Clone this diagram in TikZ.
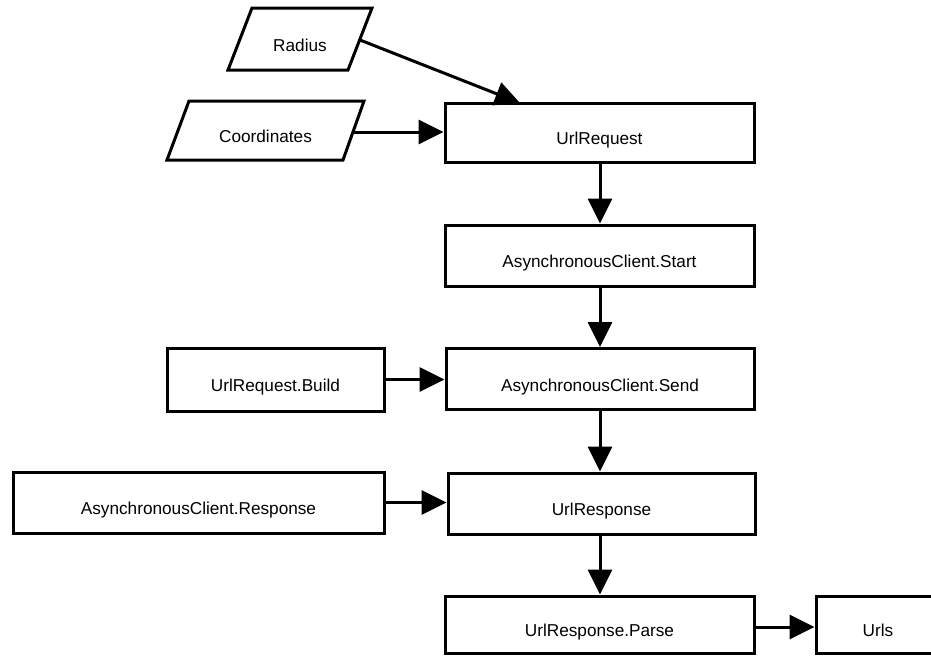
\documentclass[tikz,border=0pt]{standalone}
\usepackage{fontspec}
\setmainfont{Liberation Sans}
\usetikzlibrary{arrows.meta}
\begin{document}
\begin{tikzpicture}[x=1pt,y=-1pt,
  txt/.style={font=\fontsize{17.2}{20}\selectfont, text height=24.3pt, text depth=0pt, inner sep=0pt},
  stepbox/.style={txt, draw, line width=3pt, rectangle, fill=white},
  outline/.style={draw, line width=3pt, line join=miter},
  flow/.style={line width=3pt, -{Triangle[length=25pt,width=24pt]}}]
  \path[use as bounding box, clip] (0,0) rectangle (931,657);
  \fill[white] (0,0) rectangle (931,657);

  % input parallelograms
  \draw[outline] (252,8) -- (372,8) -- (348,70) -- (228,70) -- cycle;
  \node[txt] (radius) at (300,39) {Radius};
  \coordinate (radius-out) at (360,40);
  \draw[outline] (189,101) -- (364,101) -- (343,160) -- (167,160) -- cycle;
  \node[txt] (coords) at (265.5,130.5) {Coordinates};
  \coordinate (coords-out) at (353,132);

  % process boxes
  \node[stepbox, minimum width=309pt, minimum height=59pt] (req)   at (599.5,132.5) {UrlRequest};
  \node[stepbox, minimum width=309pt, minimum height=61pt] (start) at (599.5,255.5) {AsynchronousClient.Start};
  \node[stepbox, minimum width=308pt, minimum height=61pt] (send)  at (600,379)     {AsynchronousClient.Send};
  \node[stepbox, minimum width=217pt, minimum height=63pt] (build) at (275.5,379.5) {UrlRequest.Build};
  \node[stepbox, minimum width=371pt, minimum height=61pt] (resp)  at (198.5,502.5) {AsynchronousClient.Response};
  \node[stepbox, minimum width=307pt, minimum height=61pt] (uresp) at (601.5,503.5) {UrlResponse};
  \node[stepbox, minimum width=309pt, minimum height=57pt] (parse) at (599.5,624.5) {UrlResponse.Parse};
  \node[stepbox, minimum width=124pt, minimum height=57pt] (urls)  at (878,624.5)   {Urls};

  % connectors
  \coordinate (req-in) at (520,103);
  \draw[flow] (radius-out) -- (req-in);
  \draw[flow] (coords-out) -- (coords-out -| req.west);
  \draw[flow] (req.south -| 600,0) -- (start.north -| 600,0);
  \draw[flow] (start.south -| 600,0) -- (send.north -| 600,0);
  \draw[flow] (build.east) -- (build.east -| send.west);
  \draw[flow] (send.south -| 600,0) -- (uresp.north -| 600,0);
  \draw[flow] (resp.east) -- (resp.east -| uresp.west);
  \draw[flow] (uresp.south -| 600,0) -- (parse.north -| 600,0);
  \draw[flow] (parse.east |- 0,627) -- (urls.west |- 0,627);
\end{tikzpicture}
\end{document}
